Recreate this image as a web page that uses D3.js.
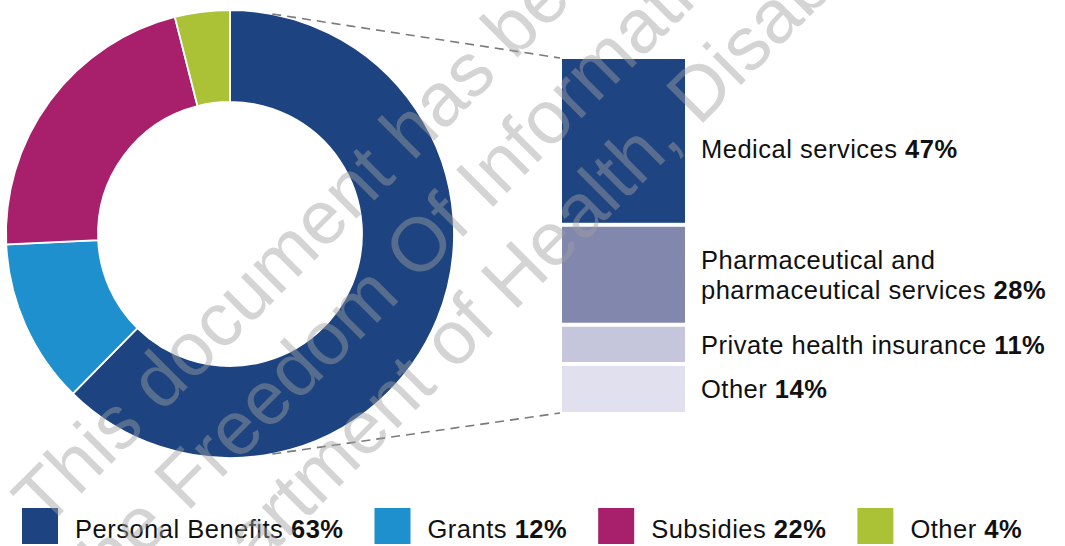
<!DOCTYPE html>
<html>
<head>
<meta charset="utf-8">
<script src="https://cdn.jsdelivr.net/npm/d3@7"></script>
<style>
  html, body { margin: 0; padding: 0; background: #ffffff; }
  svg { display: block; }
  text { font-family: "Liberation Sans", Arial, Helvetica, sans-serif; }
</style>
</head>
<body>
<svg id="chart" width="1065" height="546"></svg>
<script>
// Spending split (donut)
const donutCategories = ["Personal Benefits", "Grants", "Subsidies", "Other"];
const donutValues = [63, 12, 22, 4];
const donutColors = ["#1d4480", "#1e90cd", "#a8206b", "#abc136"];

// Breakdown of personal benefits (stacked bar)
const breakdownCategories = ["Medical services", "Pharmaceutical and pharmaceutical services", "Private health insurance", "Other"];
const breakdownLabelLines = [["Medical services"], ["Pharmaceutical and", "pharmaceutical services"], ["Private health insurance"], ["Other"]];
const breakdownValues = [47, 28, 11, 14];
const breakdownColors = ["#1e4481", "#8288ad", "#c5c6dc", "#e0e0ee"];

// Release notice lines
const noticeLines = [
  "This document has been released under",
  "the Freedom Of Information Act 1982 by the",
  "Department of Health, Disability and Ageing"
];

const svg = d3.select("#chart");
const FONT = 25.5, SPACING = 0.5;

// ---------- donut ----------
const cx = 230, cy = 234, rOuter = 224, rInner = 132;
const pie = d3.pie().sort(null).value(d => d);
const arcs = pie(donutValues);
const arc = d3.arc().innerRadius(rInner).outerRadius(rOuter);

const donut = svg.append("g").attr("transform", `translate(${cx},${cy})`);
donut.selectAll("path")
  .data(arcs)
  .join("path")
  .attr("d", arc)
  .attr("fill", (d, i) => donutColors[i])
  .attr("stroke", "#ffffff")
  .attr("stroke-width", 1.8);

// ---------- stacked bar ----------
const barX = 562, barW = 123, gap = 4;
const total = d3.sum(breakdownValues);
const y = d3.scaleLinear().domain([0, total]).range([59 - gap / 2, 412 + gap / 2]);
let acc = 0;
const stack = breakdownValues.map((v, i) => {
  const s = { i, v, y0: acc, y1: acc + v };
  acc += v;
  return s;
});

const bar = svg.append("g");
bar.selectAll("rect")
  .data(stack)
  .join("rect")
  .attr("x", barX)
  .attr("width", barW)
  .attr("y", d => y(d.y0) + gap / 2)
  .attr("height", d => y(d.y1) - y(d.y0) - gap)
  .attr("fill", d => breakdownColors[d.i]);

// connector lines from donut to bar
const angTop = 0.19, angBot = Math.PI - 0.19;
const pOnArc = a => [cx + rOuter * Math.sin(a), cy - rOuter * Math.cos(a)];
const connectors = [
  [pOnArc(angTop), [barX - 2, y(0) + gap / 2 - 1]],
  [pOnArc(angBot), [barX - 2, y(total) - gap / 2 + 1]]
];
svg.append("g").selectAll("line")
  .data(connectors)
  .join("line")
  .attr("x1", d => d[0][0]).attr("y1", d => d[0][1])
  .attr("x2", d => d[1][0]).attr("y2", d => d[1][1])
  .attr("stroke", "#7a7a7a")
  .attr("stroke-width", 1.6)
  .attr("stroke-dasharray", "9,6");

// bar labels, centred on their segment (the top one sits a little lower)
const labelX = 701, lineH = 30, capH = FONT * 0.716;
const labelNudge = [8, 0, 0, 0];
const labels = svg.append("g");
stack.forEach(s => {
  const lines = breakdownLabelLines[s.i];
  const mid = (y(s.y0) + y(s.y1)) / 2 + labelNudge[s.i];
  const firstBase = mid + capH / 2 - (lines.length - 1) * lineH / 2;
  lines.forEach((ln, k) => {
    const t = labels.append("text")
      .attr("x", labelX)
      .attr("y", firstBase + k * lineH)
      .attr("font-size", FONT)
      .attr("letter-spacing", SPACING)
      .attr("fill", "#111111");
    t.append("tspan").text(ln);
    if (k === lines.length - 1) {
      t.append("tspan").attr("font-weight", "bold").text(" " + s.v + "%");
    }
  });
});

// ---------- legend ----------
const legend = svg.append("g");
const sq = 36, legY = 508, legBase = 538, textOff = 53, itemGap = 31;
let lx = 22;
donutCategories.forEach((c, i) => {
  legend.append("rect")
    .attr("x", lx).attr("y", legY)
    .attr("width", sq).attr("height", sq)
    .attr("fill", donutColors[i]);
  const t = legend.append("text")
    .attr("x", lx + textOff)
    .attr("y", legBase)
    .attr("font-size", FONT)
    .attr("letter-spacing", SPACING)
    .attr("fill", "#111111");
  t.append("tspan").text(c + " ");
  t.append("tspan").attr("font-weight", "bold").text(donutValues[i] + "%");
  lx += textOff + t.node().getComputedTextLength() + itemGap;
});

// ---------- release notice overlay ----------
const noticeOrigins = [[45, 530], [97, 603], [158, 668]];
const notice = svg.append("g").attr("pointer-events", "none");
noticeLines.forEach((ln, i) => {
  notice.append("text")
    .attr("transform", `translate(${noticeOrigins[i][0]},${noticeOrigins[i][1]}) rotate(-45)`)
    .attr("font-size", 76)
    .attr("fill", "#a0a0a0")
    .attr("fill-opacity", 0.45)
    .text(ln);
});
</script>
</body>
</html>
